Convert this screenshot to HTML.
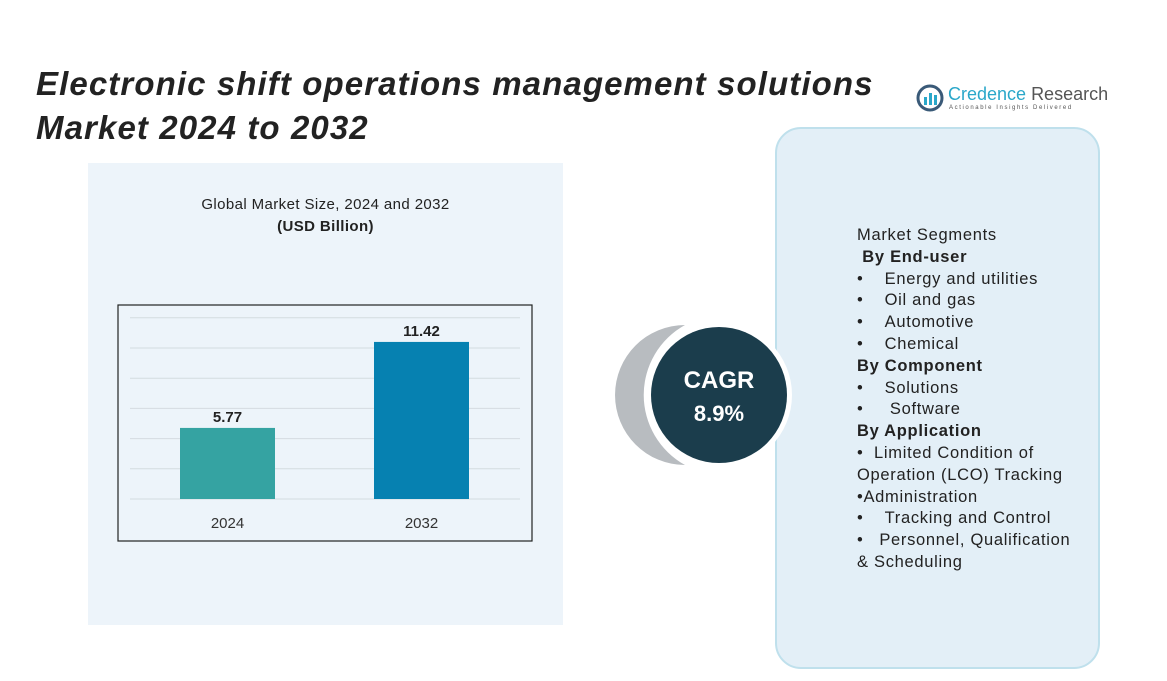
<!DOCTYPE html>
<html><head><meta charset="utf-8"><style>
body{margin:0;width:1167px;height:681px;background:#fff;position:relative;overflow:hidden;font-family:"Liberation Sans",sans-serif}
.abs{position:absolute}
</style></head><body>
<div class="abs" style="left:36px;top:62px;font:italic bold 33px 'Liberation Sans',sans-serif;letter-spacing:1.1px;color:#222;line-height:44px;white-space:nowrap">Electronic shift operations management solutions<br>Market 2024 to 2032</div>
<div class="abs" style="left:916px;top:84px;width:180px;height:30px;white-space:nowrap">
<svg width="28" height="28" style="position:absolute;left:0;top:0"><circle cx="14" cy="14" r="12" fill="none" stroke="#3a5a78" stroke-width="3"/><rect x="8" y="13" width="3" height="8" fill="#2aa7c9"/><rect x="13" y="9" width="3" height="12" fill="#2aa7c9"/><rect x="18" y="11" width="3" height="10" fill="#2aa7c9"/></svg>
<div style="position:absolute;left:32px;top:0;font-size:18px;color:#2aa7c9">Credence <span style="color:#555">Research</span></div>
<div style="position:absolute;left:33px;top:21px;font-size:6px;letter-spacing:1.6px;color:#555">Actionable Insights Delivered</div></div>
<div class="abs" style="left:88px;top:163px;width:475px;height:462px;background:#edf4fa"></div>
<div class="abs" style="left:88px;top:194px;width:475px;text-align:center;font-size:15px;letter-spacing:0.4px;color:#222;line-height:22px">Global Market Size, 2024 and 2032<br><b>(USD Billion)</b></div>
<svg class="abs" style="left:0;top:0" width="1167" height="681">
<rect x="118" y="305" width="414" height="236" fill="none" stroke="#222" stroke-width="1.2"/>
<g id="grid"></g><g id="bars"></g>
</svg>
<div class="abs" style="left:775px;top:127px;width:325px;height:542px;border:2px solid #bfe0ec;border-radius:26px;background:#e3eff7;box-sizing:border-box"></div>
<svg class="abs" style="left:615px;top:315px" width="180" height="160">
<path d="M70 10 A70 70 0 0 0 70 150 A80 80 0 0 1 70 10Z" fill="#b8bcc0"/>
<circle cx="104" cy="80" r="73" fill="#fff"/>
<circle cx="104" cy="80" r="68" fill="#1b3d4c"/>
<text x="104" y="73" text-anchor="middle" fill="#fff" font-size="24" font-weight="bold" font-family="Liberation Sans">CAGR</text>
<text x="104" y="106" text-anchor="middle" fill="#fff" font-size="22" font-weight="bold" font-family="Liberation Sans">8.9%</text>
</svg>
<div class="abs" style="left:857px;top:225px;font-size:16.5px;letter-spacing:0.7px;line-height:21.8px;color:#222;white-space:nowrap">
Market Segments<br>&nbsp;<b>By End-user</b><br>•&nbsp;&nbsp;&nbsp;&nbsp;Energy and utilities<br>•&nbsp;&nbsp;&nbsp;&nbsp;Oil and gas<br>•&nbsp;&nbsp;&nbsp;&nbsp;Automotive<br>•&nbsp;&nbsp;&nbsp;&nbsp;Chemical<br><b>By Component</b><br>•&nbsp;&nbsp;&nbsp;&nbsp;Solutions<br>•&nbsp;&nbsp;&nbsp;&nbsp;&nbsp;Software<br><b>By Application</b><br>•&nbsp;&nbsp;Limited Condition of<br>Operation (LCO) Tracking<br>•Administration<br>•&nbsp;&nbsp;&nbsp;&nbsp;Tracking and Control<br>•&nbsp;&nbsp;&nbsp;Personnel, Qualification<br>&amp; Scheduling</div>
<script>
const categories=["2024","2032"];
const values=[5.77,11.42];
const labels=["5.77","11.42"];
const colors=["#35a3a2","#0681b1"];
const base=499,k=15.22,vmin=1.1;
function y(v){return base-(v-vmin)*k;}
const ns="http://www.w3.org/2000/svg";
const grid=document.getElementById('grid'),bars=document.getElementById('bars');
for(let i=0;i<7;i++){const l=document.createElementNS(ns,'line');


const gy=base-i*30.2;l.setAttribute('x1',130);l.setAttribute('x2',520);l.setAttribute('y1',gy);l.setAttribute('y2',gy);l.setAttribute('stroke','#d4dbe0');grid.appendChild(l);}
const xs=[180,374],w=95;
categories.forEach((c,i)=>{
const r=document.createElementNS(ns,'rect');


r.setAttribute('x',xs[i]);r.setAttribute('width',w);r.setAttribute('y',y(values[i]));r.setAttribute('height',base-y(values[i]));r.setAttribute('fill',colors[i]);bars.appendChild(r);
const t=document.createElementNS(ns,'text');


t.setAttribute('x',xs[i]+w/2);t.setAttribute('y',y(values[i])-6);t.setAttribute('text-anchor','middle');t.setAttribute('font-size','15');t.setAttribute('font-weight','bold');t.setAttribute('fill','#222');t.textContent=labels[i];bars.appendChild(t);
const a=document.createElementNS(ns,'text');


a.setAttribute('x',xs[i]+w/2);a.setAttribute('y',528);a.setAttribute('text-anchor','middle');a.setAttribute('font-size','15');a.setAttribute('fill','#333');a.textContent=c;bars.appendChild(a);
});
</script>
</body></html>
